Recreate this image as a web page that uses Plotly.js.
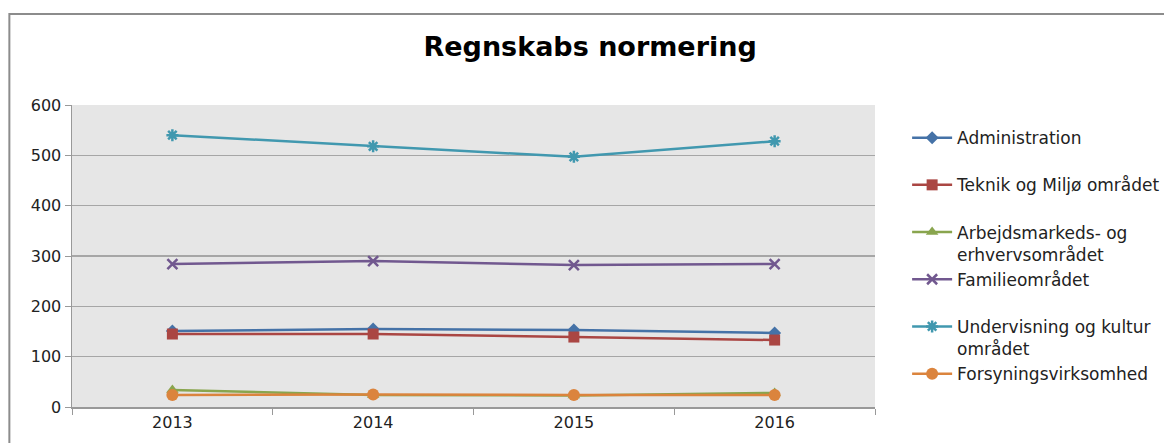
<!DOCTYPE html>
<html><head><meta charset="utf-8">
<script src="https://cdn.plot.ly/plotly-3.0.1.min.js"></script>
<style>html,body{margin:0;padding:0;background:#fff;}#chart{width:1164px;height:443px;}</style>
</head><body><div id="chart"></div>
<script>
const years = ['2013','2014','2015','2016'];
const seriesNames = ['Administration','Teknik og Miljø området','Arbejdsmarkeds- og<br>erhvervsområdet','Familieområdet','Undervisning og kultur<br>området','Forsyningsvirksomhed'];
const administration = [151,155,153,147];
const teknik = [145,145,139,133];
const arbejds = [34,24,23,28];
const familie = [284,290,282,284];
const undervisning = [540,518,497,528];
const forsyning = [24,25,24,24];
const colors = ['#4572A7','#AA4643','#89A54E','#71588F','#4198AF','#DB843D'];
const symbols = ['diamond','square','triangle-up','x-thin-open','asterisk-open','circle'];
const sizes = [10,11,11,10,10,12];
const values = [administration,teknik,arbejds,familie,undervisning,forsyning];

const traces = values.map((v,i)=>({
  x: years, y: v, type:'scatter', mode:'lines+markers',
  name: seriesNames[i].indexOf('<br>')>=0 ? seriesNames[i] : seriesNames[i] + '<br> ',
  legendgroup: 'g'+i,
  line:{color:colors[i], width:2.5},
  marker:{symbol:symbols[i], size:sizes[i], color:colors[i], line:{color:colors[i], width:(symbols[i].indexOf('open')>=0?2.5:0)}}
}));

const layout = {
  width:1164, height:443,
  margin:{l:72, r:289, t:105, b:36, autoexpand:false},
  paper_bgcolor:'#ffffff', plot_bgcolor:'#E6E6E6',
  font:{family:'DejaVu Sans, sans-serif', size:16, color:'#222'},
  title:{text:'<b>Regnskabs normering</b>', font:{family:'DejaVu Sans, sans-serif', size:27, color:'#000'}, x:0.507, xanchor:'center', y:0.895, yanchor:'middle'},
  xaxis:{type:'category', range:[-0.5,3.5], showgrid:false, showline:true, linecolor:'#999', linewidth:1.5,
    ticks:'outside', tickson:'boundaries', ticklen:6, tickcolor:'#999', tickfont:{size:16, color:'#222'}, zeroline:false, fixedrange:true},
  yaxis:{range:[0,600], dtick:100, showgrid:true, gridcolor:'#A6A6A6', gridwidth:1.2, showline:true, linecolor:'#999', linewidth:1.5,
    ticks:'outside', ticklen:6, tickcolor:'#999', tickfont:{size:16, color:'#222'}, zeroline:false, fixedrange:true},
  showlegend:true,
  legend:{x:1.04, xanchor:'left', y:0.95, yanchor:'top', valign:'top', tracegroupgap:3,
    font:{size:17, color:'#222'}, bgcolor:'rgba(0,0,0,0)', itemwidth:40, traceorder:'normal'},
  shapes:[{type:'rect', xref:'paper', yref:'paper', x0:-0.078, x1:1.6, y0:-0.5, y1:1.301, line:{color:'#8c8c8c', width:2}, fillcolor:'rgba(0,0,0,0)', layer:'below'}]
};
Plotly.newPlot('chart', traces, layout, {displayModeBar:false, staticPlot:true});
</script></body></html>
